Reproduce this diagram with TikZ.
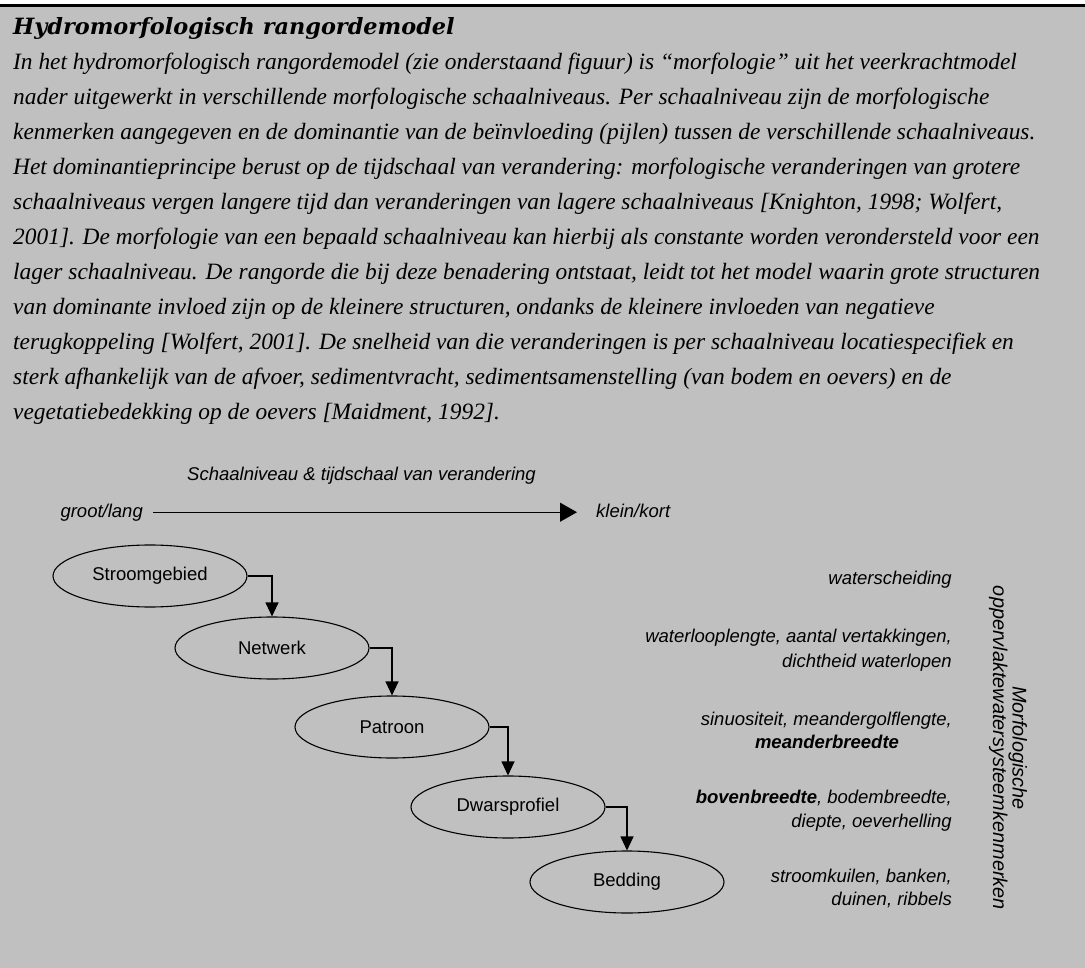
\documentclass[tikz,border=0pt]{standalone}
\usepackage{fontspec}
\setmainfont{Liberation Serif}
\setsansfont{Liberation Sans}
\newfontfamily\titelfont{DejaVu Serif}
\usetikzlibrary{arrows.meta,shapes.geometric}
\definecolor{achtergrond}{HTML}{C0C0C0}
\newcommand{\schaalfont}{\sffamily\fontsize{18.5}{22}\selectfont}

\begin{document}
\begin{tikzpicture}[x=1pt,y=-1pt,
  regel/.style={anchor=base west, inner sep=0pt, font=\itshape\fontsize{23.4}{35}\selectfont},
  schaal/.style={ellipse, draw, line width=1.1pt, minimum width=194pt, minimum height=62pt, inner sep=0pt, font=\schaalfont},
  pijl/.style={line width=1.1pt, -{Triangle[length=14pt,width=13pt]}},
  kenmerk/.style={anchor=base east, inner sep=0pt, font=\schaalfont\itshape}]
\useasboundingbox (0,0) rectangle (1085,968);
\fill[achtergrond] (0,4) rectangle (1085,968);
\fill[black] (0,4) rectangle (1085,7);

% kader met tekst
\node[anchor=base west, inner sep=0pt, font=\titelfont\bfseries\itshape\fontsize{22.4}{26}\selectfont] (titel) at (13,35) {Hydromorfologisch rangordemodel};
\foreach \tekst [count=\i] in {
  {In het hydromorfologisch rangordemodel (zie onderstaand figuur) is “morfologie” uit het veerkrachtmodel},
  {nader uitgewerkt in verschillende morfologische schaalniveaus. Per schaalniveau zijn de morfologische},
  {kenmerken aangegeven en de dominantie van de beïnvloeding (pijlen) tussen de verschillende schaalniveaus.},
  {Het dominantieprincipe berust op de tijdschaal van verandering: morfologische veranderingen van grotere},
  {schaalniveaus vergen langere tijd dan veranderingen van lagere schaalniveaus [Knighton, 1998; Wolfert,},
  {2001]. De morfologie van een bepaald schaalniveau kan hierbij als constante worden verondersteld voor een},
  {lager schaalniveau. De rangorde die bij deze benadering ontstaat, leidt tot het model waarin grote structuren},
  {van dominante invloed zijn op de kleinere structuren, ondanks de kleinere invloeden van negatieve},
  {terugkoppeling [Wolfert, 2001]. De snelheid van die veranderingen is per schaalniveau locatiespecifiek en},
  {sterk afhankelijk van de afvoer, sedimentvracht, sedimentsamenstelling (van bodem en oevers) en de},
  {vegetatiebedekking op de oevers [Maidment, 1992].}}
  \node[regel] (regel\i) at (13,{70+34.9*(\i-1)}) {\tekst};

% schaalas
\node[anchor=base west, inner sep=0pt, font=\schaalfont\itshape] (astitel) at (187,480) {Schaalniveau \& tijdschaal van verandering};
\node[anchor=base west, font=\schaalfont\itshape] (groot) at (57,517) {groot/lang};
\node[anchor=base west, inner sep=0pt, font=\schaalfont\itshape] (klein) at (596,517) {klein/kort};
\draw[line width=1.1pt, -{Triangle[length=17pt,width=19pt]}, shorten <=7pt, shorten >=19pt] (groot.east) -- (groot.east -| klein.west);

% schaalniveaus
\node[schaal] (stroomgebied) at (150,576) {Stroomgebied};
\node[schaal] (netwerk) at (272,648) {Netwerk};
\node[schaal] (patroon) at (392,727) {Patroon};
\node[schaal] (dwarsprofiel) at (508,807) {Dwarsprofiel};
\node[schaal] (bedding) at (627,882) {Bedding};
\draw[pijl] (stroomgebied.east) -| (netwerk.north);
\draw[pijl] (netwerk.east) -| (patroon.north);
\draw[pijl] (patroon.east) -| (dwarsprofiel.north);
\draw[pijl] (dwarsprofiel.east) -| (bedding.north);

% kenmerken
\node[kenmerk] (k1) at (952,584) {waterscheiding};
\node[kenmerk] (k2a) at (952,642) {waterlooplengte, aantal vertakkingen,};
\node[kenmerk] (k2b) at (952,667) {dichtheid waterlopen};
\node[kenmerk] (k3a) at (952,725) {sinuositeit, meandergolflengte,};
\node[kenmerk, anchor=base] (k3b) at (827,748) {\bfseries meanderbreedte};
\node[kenmerk] (k4a) at (952,803) {\textbf{bovenbreedte}, bodembreedte,};
\node[kenmerk] (k4b) at (952,827) {diepte, oeverhelling};
\node[kenmerk] (k5a) at (952,882) {stroomkuilen, banken,};
\node[kenmerk] (k5b) at (952,905) {duinen, ribbels};
\node[rotate=-90, align=center, inner sep=0pt, font=\sffamily\itshape\fontsize{19.9}{17}\selectfont] (morfologie) at (1008,748) {Morfologische\\oppervlaktewatersysteemkenmerken};
\end{tikzpicture}
\end{document}
